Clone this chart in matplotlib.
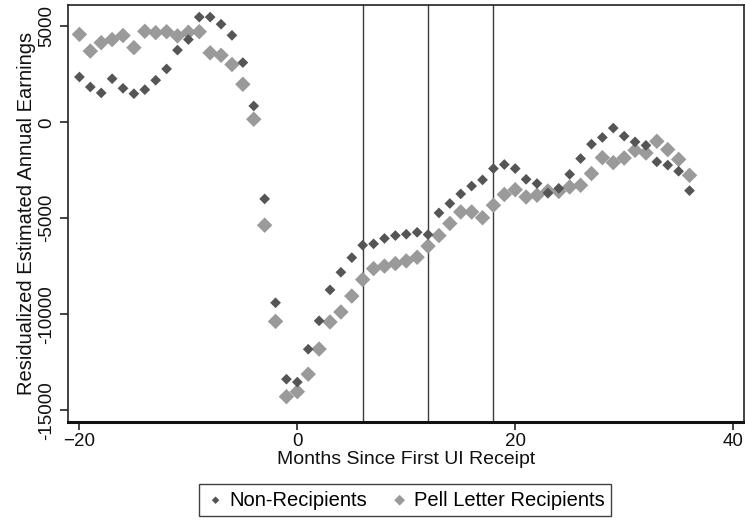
import matplotlib
matplotlib.use("Agg")
import matplotlib.pyplot as plt

plt.rcParams["font.family"] = ["Liberation Sans", "DejaVu Sans"]

months = list(range(-20, 37))

non_recipients = [
    2360, 1840, 1530, 2270, 1770, 1490, 1700, 2190, 2780, 3760,
    4310, 5480, 5480, 5110, 4530, 3110, 850, -3990, -9400, -13380,
    -13530, -11820, -10340, -8730, -7810, -7050, -6400, -6330, -6050, -5900,
    -5830, -5730, -5850, -4720, -4230, -3730, -3320, -3000, -2410, -2200,
    -2410, -2970, -3190, -3680, -3440, -2710, -1890, -1140, -790, -300,
    -720, -1020, -1200, -2060, -2230, -2550, -3560,
]

pell_recipients = [
    4580, 3710, 4150, 4310, 4520, 3890, 4740, 4670, 4720, 4500,
    4690, 4720, 3620, 3490, 3010, 1980, 160, -5360, -10370, -14290,
    -14030, -13120, -11810, -10400, -9880, -9050, -8190, -7620, -7490, -7360,
    -7220, -7030, -6450, -5900, -5270, -4670, -4670, -4970, -4320, -3760,
    -3510, -3890, -3800, -3580, -3600, -3370, -3280, -2670, -1840, -2100,
    -1860, -1460, -1600, -990, -1420, -1930, -2760,
]

vlines = [6, 12, 18]
xticks = [-20, 0, 20, 40]
yticks = [-15000, -10000, -5000, 0, 5000]

fig = plt.figure(figsize=(7.45, 5.21), dpi=100)
ax = fig.add_axes([68 / 745, 99 / 521, 676 / 745, 417 / 521])

for v in vlines:
    ax.axvline(v, color="#3a3a3a", lw=1.0, zorder=1)

ax.scatter(months, pell_recipients, marker="D", s=62, color="#9a9a9a",
           edgecolors="none", zorder=2, label="Pell Letter Recipients")
ax.scatter(months, non_recipients, marker="D", s=30, color="#555555",
           edgecolors="none", zorder=3, label="Non-Recipients")

ax.set_xlim(-21.05, 41.0)
ax.set_ylim(-15610, 6110)
ax.set_xticks(xticks)
ax.set_yticks(yticks)
ax.set_yticklabels([str(t) for t in yticks], rotation=90, va="center")
ax.tick_params(axis="both", direction="out", length=6, width=1.2,
               color="#222222", labelsize=13.5, labelcolor="#111111")
ax.tick_params(axis="x", pad=2)
ax.tick_params(axis="y", pad=3)

for s in ["left", "top", "right"]:
    ax.spines[s].set_linewidth(1.2)
    ax.spines[s].set_color("#222222")
ax.spines["bottom"].set_linewidth(2.2)
ax.spines["bottom"].set_color("#111111")

ax.set_xlabel("Months Since First UI Receipt", fontsize=14, labelpad=1, color="#111111")
ax.set_ylabel("Residualized Estimated Annual Earnings", fontsize=14.5, labelpad=2, color="#111111")

h, l = ax.get_legend_handles_labels()
leg = fig.legend([h[1], h[0]], [l[1], l[0]], loc="center",
                 bbox_to_anchor=(405 / 745, 1 - 500 / 521), ncol=2,
                 fontsize=14.5, frameon=True, fancybox=False, edgecolor="#111111",
                 handletextpad=0.2, columnspacing=1.1, borderpad=0.3,
                 handlelength=1.0, markerscale=0.7)
leg.get_frame().set_linewidth(1.0)

fig.savefig("out.png", dpi=100)
